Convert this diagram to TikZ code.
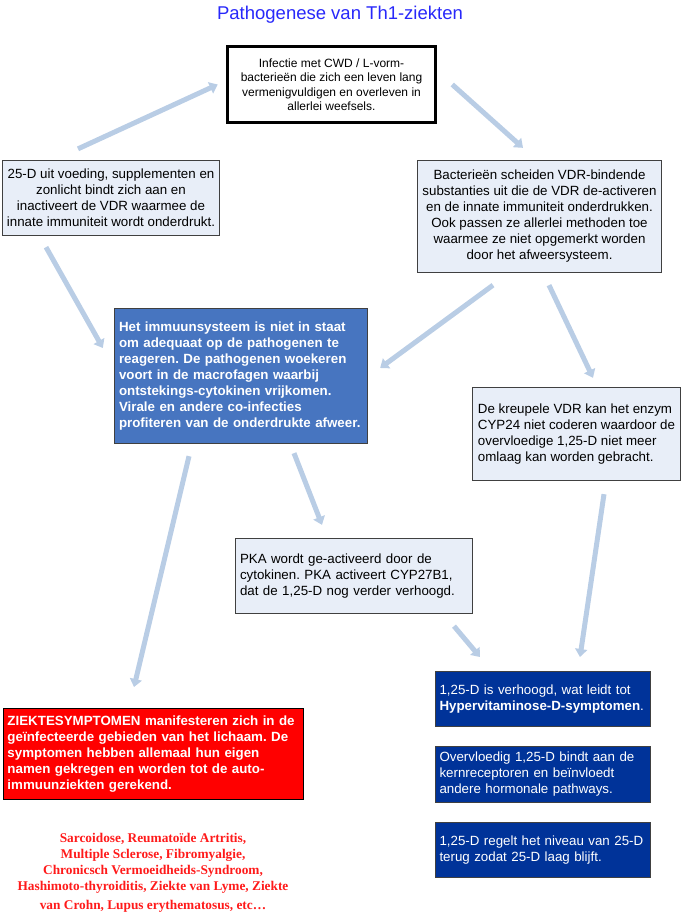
\documentclass[tikz,border=0pt]{standalone}
\usepackage{fontspec}
\setmainfont{Liberation Sans}
\newfontfamily\lijstfont{Liberation Serif}
\usetikzlibrary{arrows.meta}

\definecolor{titelblauw}{HTML}{2828FA}
\definecolor{pijlblauw}{HTML}{B9CDE5}
\definecolor{lichtblauw}{HTML}{E8EEF8}
\definecolor{middenblauw}{HTML}{4775C0}
\definecolor{donkerblauw}{HTML}{003399}
\definecolor{randgrijs}{HTML}{404040}
\definecolor{lijstrood}{HTML}{FF1A1A}

\tikzset{
  vak/.style={rectangle, inner sep=0pt, font=\fontsize{13.33}{16}\selectfont},
  zwartvak/.style={vak, draw=black, line width=3.5pt, fill=white, align=center,
    font=\fontsize{12}{14.5}\selectfont},
  lichtvak/.style={vak, draw=randgrijs, line width=1.3pt, fill=lichtblauw},
  blauwvak/.style={vak, draw=randgrijs, line width=1.3pt, fill=middenblauw,
    text=white, align=left, font=\fontsize{13.33}{16}\selectfont\bfseries},
  roodvak/.style={blauwvak, draw=black, line width=1pt, fill=red},
  donkervak/.style={vak, draw=randgrijs, line width=1pt, fill=donkerblauw,
    text=white, align=left},
  pijl/.style={draw=pijlblauw, line width=5pt,
    -{Triangle[width=12pt,length=8pt]}},
}

\begin{document}
\frenchspacing
\begin{tikzpicture}[x=1pt,y=-1pt]
\useasboundingbox (0,0) rectangle (682,914);

% titel
\node[text=titelblauw, font=\fontsize{18.5}{22}\selectfont] (titel) at (340,15)
  {Pathogenese van Th1-ziekten};

% vakken
\node[zwartvak, minimum width=208, minimum height=76] (infectie) at (331.5,84.5)
  {Infectie met CWD / L-vorm-\\bacterieën die zich een leven lang\\
   vermenigvuldigen en overleven in\\allerlei weefsels.};
\node[lichtvak, align=center, minimum width=217, minimum height=75] (vitd) at (111,198)
  {25-D uit voeding, supplementen en\\zonlicht bindt zich aan en\\
   inactiveert de VDR waarmee de\\innate immuniteit wordt onderdrukt.};
\node[lichtvak, align=center, minimum width=244, minimum height=112] (bacterie) at (539.5,216.5)
  {Bacterieën scheiden VDR-bindende\\substanties uit die de VDR de-activeren\\
   en de innate immuniteit onderdrukken.\\Ook passen ze allerlei methoden toe\\
   waarmee ze niet opgemerkt worden\\door het afweersysteem.};
\node[blauwvak, minimum width=253, minimum height=135, text width=244] (immuun) at (241,376)
  {Het immuunsysteem is niet in staat\\om adequaat op de pathogenen te\\
   reageren. De pathogenen woekeren\\voort in de macrofagen waarbij\\
   ontstekings-cytokinen vrijkomen.\\Virale en andere co-infecties\\
   profiteren van de onderdrukte afweer.};
\node[lichtvak, align=left, minimum width=208, minimum height=93] (kreupel) at (576.5,434)
  {De kreupele VDR kan het enzym\\CYP24 niet coderen waardoor de\\
   overvloedige 1,25-D niet meer\\omlaag kan worden gebracht.};
\node[lichtvak, align=left, minimum width=237, minimum height=75, text width=228] (pka) at (354,576)
  {PKA wordt ge-activeerd door de\\cytokinen. PKA activeert CYP27B1,\\
   dat de 1,25-D nog verder verhoogd.};
\node[roodvak, minimum width=300, minimum height=91, text width=291] (ziekte) at (153,754)
  {ZIEKTESYMPTOMEN manifesteren zich in de\\geïnfecteerde gebieden van het lichaam. De\\
   symptomen hebben allemaal hun eigen\\namen gekregen en worden tot de auto-\\
   immuunziekten gerekend.};
\node[donkervak, minimum width=215, minimum height=55, text width=207] (hyper) at (543,699)
  {1,25-D is verhoogd, wat leidt tot\\\textbf{Hypervitaminose-D-symptomen}.};
\node[donkervak, minimum width=215, minimum height=56, text width=207] (overvloed) at (543,774.5)
  {Overvloedig 1,25-D bindt aan de\\kernreceptoren en beïnvloedt\\andere hormonale pathways.};
\node[donkervak, minimum width=215, minimum height=55, text width=207] (regel) at (543,850)
  {1,25-D regelt het niveau van 25-D\\terug zodat 25-D laag blijft.};

% ziektenlijst
\node[text=lijstrood, align=center, font=\fontsize{13.33}{16}\selectfont\lijstfont\bfseries] (lijst) at (153,872.5)
  {Sarcoidose, Reumatoïde Artritis,\\Multiple Sclerose, Fibromyalgie,\\
   Chronicsch Vermoeidheids-Syndroom,\\Hashimoto-thyroiditis, Ziekte van Lyme, Ziekte\\[3pt]
   van Crohn, Lupus erythematosus, etc\ldots};

% pijlen
\draw[pijl] ([xshift=-33pt,yshift=11pt]vitd.north) -- ([xshift=-8pt]infectie.west);
\draw[pijl] ([xshift=15pt]infectie.east) -- ([xshift=-16.5pt,yshift=12pt]bacterie.north);
\draw[pijl] ([xshift=-65pt,yshift=-11pt]vitd.south) -- ([xshift=-11pt,yshift=28pt]immuun.west);
\draw[pijl] ([xshift=-46.5pt,yshift=-12pt]bacterie.south) -- ([xshift=12pt,yshift=8pt]immuun.east);
\draw[pijl] ([xshift=9.5pt,yshift=-12pt]bacterie.south) -- ([xshift=16.5pt,yshift=9pt]kreupel.north);
\draw[pijl] ([xshift=-52pt,yshift=-12pt]immuun.south) -- ([xshift=-19pt,yshift=21pt]ziekte.north);
\draw[pijl] ([xshift=53pt,yshift=-9pt]immuun.south) -- ([xshift=-32pt,yshift=13pt]pka.north);
\draw[pijl] ([xshift=27.5pt,yshift=-13pt]kreupel.south) -- ([xshift=37pt,yshift=14pt]hyper.north);
\draw[pijl] ([xshift=100pt,yshift=-12pt]pka.south) -- ([xshift=-63pt,yshift=14pt]hyper.north);

\end{tikzpicture}
\end{document}
